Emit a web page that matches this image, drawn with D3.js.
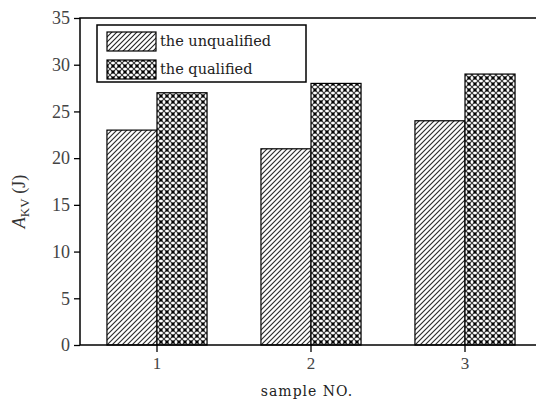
<!DOCTYPE html>
<html>
<head>
<meta charset="utf-8">
<script src="https://cdn.jsdelivr.net/npm/d3@7"></script>
<style>
  html, body { margin: 0; padding: 0; background: #fff; overflow: hidden; }
  svg { display: block; }
</style>
</head>
<body>
<div class="svg-container"></div>
<script>
// Data
const samples = ['1', '2', '3'];
const seriesNames = ['the unqualified', 'the qualified'];
const unqualified = [23, 21, 24];
const qualified = [27, 28, 29];
const yTicks = [0, 5, 10, 15, 20, 25, 30, 35];

const W = 536, H = 399;
// plot box, right edge falls just outside the picture
const plot = { left: 80, top: 18, right: 542, bottom: 345 };

const svg = d3.select('.svg-container').append('svg')
    .attr('width', W)
    .attr('height', H);

/**
 * Patterns for the two series
 */
const defs = svg.append('defs');

const hatch = defs.append('pattern')
    .attr('id', 'hatch')
    .attr('patternUnits', 'userSpaceOnUse')
    .attr('width', 5)
    .attr('height', 5);
hatch.append('rect').attr('width', 5).attr('height', 5).attr('fill', '#fff');
hatch.append('path')
    .attr('d', 'M-1,1 L1,-1 M0,5 L5,0 M4,6 L6,4')
    .attr('stroke', '#222')
    .attr('stroke-width', 1.1);

const check = defs.append('pattern')
    .attr('id', 'check')
    .attr('patternUnits', 'userSpaceOnUse')
    .attr('width', 6)
    .attr('height', 6);
check.append('rect').attr('width', 6).attr('height', 6).attr('fill', '#fff');
check.append('path')
    .attr('d', 'M0,0 L6,6 M6,0 L0,6')
    .attr('stroke', '#333')
    .attr('stroke-width', 1.1);
[[0, 0], [6, 0], [0, 6], [6, 6]].forEach(p => {
    check.append('rect')
        .attr('x', p[0] - 1.5).attr('y', p[1] - 1.5)
        .attr('width', 3).attr('height', 3)
        .attr('fill', '#000');
});

const fills = ['url(#hatch)', 'url(#check)'];

/**
 * Scales
 */
const x0 = d3.scaleBand()
    .domain(samples)
    .range([plot.left, plot.right])
    .paddingInner(0.35)
    .paddingOuter(0.175);

const x1 = d3.scaleBand()
    .domain(seriesNames)
    .range([0, x0.bandwidth()]);

const y = d3.scaleLinear()
    .domain([0, 35])
    .range([plot.bottom, plot.top]);

/**
 * Bars
 */
const rows = samples.map((s, i) => ({ sample: s, values: [unqualified[i], qualified[i]] }));

const groups = svg.append('g').selectAll('g')
    .data(rows)
    .enter()
    .append('g')
    .attr('transform', d => `translate(${x0(d.sample)},0)`);

groups.selectAll('rect')
    .data(d => d.values.map((v, j) => ({ name: seriesNames[j], value: v, j: j })))
    .enter()
    .append('rect')
    .attr('x', d => x1(d.name))
    .attr('y', d => y(d.value))
    .attr('width', x1.bandwidth())
    .attr('height', d => y(0) - y(d.value))
    .attr('fill', d => fills[d.j])
    .attr('stroke', '#000')
    .attr('stroke-width', 1.2);

/**
 * Axes
 */
const serif = '"Liberation Serif", serif';

const yAxis = svg.append('g')
    .attr('transform', `translate(${plot.left},0)`)
    .call(d3.axisLeft(y).tickValues(yTicks).tickSize(6).tickPadding(4));
yAxis.attr('font-family', serif).attr('font-size', 18);
yAxis.select('.domain').remove();
yAxis.selectAll('.tick line').attr('stroke', '#000').attr('stroke-width', 1.3);
yAxis.selectAll('.tick text').attr('fill', '#444');

const xAxis = svg.append('g')
    .attr('transform', `translate(0,${plot.bottom})`)
    .call(d3.axisBottom(x0).tickSize(7).tickPadding(5).tickSizeOuter(0));
xAxis.attr('font-family', serif).attr('font-size', 17);
xAxis.select('.domain').remove();
xAxis.selectAll('.tick line').attr('stroke', '#000').attr('stroke-width', 1.3);
xAxis.selectAll('.tick text').attr('fill', '#444');

// frame
svg.append('rect')
    .attr('x', plot.left)
    .attr('y', plot.top)
    .attr('width', plot.right - plot.left)
    .attr('height', plot.bottom - plot.top)
    .attr('fill', 'none')
    .attr('stroke', '#000')
    .attr('stroke-width', 1.5);

/**
 * Axis titles
 */
const yTitle = svg.append('text')
    .attr('transform', `translate(25,${(plot.top + plot.bottom) / 2 + 20}) rotate(-90)`)
    .attr('text-anchor', 'middle')
    .attr('fill', '#333')
    .style('font-family', serif)
    .style('font-size', '18px');
yTitle.append('tspan').style('font-style', 'italic').text('A');
yTitle.append('tspan').attr('dy', 4).style('font-size', '13px').text('KV');
yTitle.append('tspan').attr('dy', -4).text(' (J)');

svg.append('text')
    .attr('x', 307)
    .attr('y', 396)
    .attr('text-anchor', 'middle')
    .attr('fill', '#222')
    .style('font-family', '"DejaVu Serif", serif')
    .style('font-size', '14px')
    .style('letter-spacing', '1px')
    .text('sample NO.');

/**
 * Legend
 */
const legend = svg.append('g');
legend.append('rect')
    .attr('x', 97).attr('y', 25)
    .attr('width', 209).attr('height', 57)
    .attr('fill', '#fff')
    .attr('stroke', '#000')
    .attr('stroke-width', 1.5);

const items = legend.selectAll('g.item')
    .data(seriesNames)
    .enter()
    .append('g')
    .attr('class', 'item')
    .attr('transform', (d, i) => `translate(107,${32 + i * 28})`);

items.append('rect')
    .attr('width', 49)
    .attr('height', 19)
    .attr('fill', (d, i) => fills[i])
    .attr('stroke', '#000')
    .attr('stroke-width', 1.2);

items.append('text')
    .attr('x', 53)
    .attr('y', 14)
    .attr('fill', '#222')
    .style('font-family', '"DejaVu Serif", serif')
    .style('font-size', '14.5px')
    .text(d => d);
</script>
</body>
</html>
